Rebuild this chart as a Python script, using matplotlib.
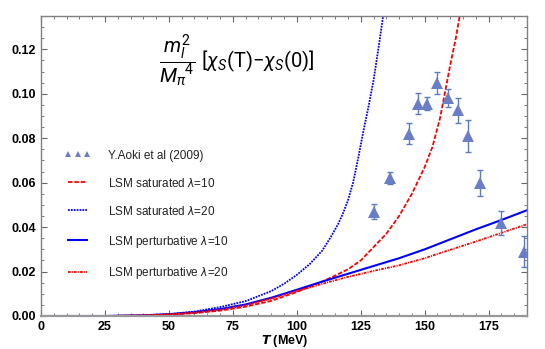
import numpy as np
import matplotlib
matplotlib.use('Agg')
import matplotlib.pyplot as plt
from matplotlib.lines import Line2D
from matplotlib.ticker import MultipleLocator

plt.rcParams['font.family'] = ['Liberation Sans', 'DejaVu Sans']
plt.rcParams['mathtext.fontset'] = 'custom'
plt.rcParams['mathtext.rm'] = 'Roboto'
plt.rcParams['mathtext.it'] = 'Roboto:italic'
plt.rcParams['mathtext.bf'] = 'Roboto:bold'

# Lattice data (Y. Aoki et al 2009)
T_data = [130, 136.5, 143.8, 147.3, 151, 155, 159, 163, 167, 171.5, 180, 189]
chi_data = [0.047, 0.062, 0.082, 0.0955, 0.0955, 0.105, 0.098, 0.0925, 0.081, 0.060, 0.042, 0.029]
chi_err = [0.0034, 0.0028, 0.0047, 0.0047, 0.003, 0.005, 0.004, 0.0056, 0.007, 0.0058, 0.0054, 0.007]

# LSM saturated lambda=10
T_sat10 = [0, 25, 40, 50, 60, 70, 80, 90, 100, 105, 110, 115, 120, 125, 130, 135, 140, 145, 150, 153, 156, 158, 160, 162, 164]
chi_sat10 = [0, 0, 0.0002, 0.0006, 0.0013, 0.0024, 0.0042, 0.0068, 0.0108, 0.0132, 0.0155, 0.0182, 0.021, 0.025, 0.031,
             0.037, 0.045, 0.055, 0.067, 0.076, 0.089, 0.101, 0.113, 0.124, 0.137]

# LSM saturated lambda=20
T_sat20 = [0, 25, 40, 50, 60, 70, 80, 90, 95, 100, 105, 110, 113, 116, 118, 120, 122, 124, 126, 128, 130, 132, 134]
chi_sat20 = [0, 0, 0.0003, 0.0008, 0.002, 0.004, 0.0067, 0.0112, 0.0145, 0.0185, 0.0233, 0.0295, 0.035, 0.041, 0.046,
             0.052, 0.060, 0.071, 0.083, 0.094, 0.106, 0.121, 0.137]

# LSM perturbative lambda=10
T_pert10 = [0, 25, 40, 50, 60, 70, 80, 90, 100, 110, 120, 130, 140, 150, 160, 170, 180, 190]
chi_pert10 = [0, 0, 0.0003, 0.0008, 0.0017, 0.0031, 0.0052, 0.0082, 0.0118, 0.0155, 0.019, 0.0225, 0.026, 0.030,
              0.0345, 0.039, 0.0432, 0.0476]

# LSM perturbative lambda=20
T_pert20 = [0, 25, 40, 50, 60, 70, 80, 90, 100, 110, 120, 130, 140, 150, 160, 170, 180, 190]
chi_pert20 = [0, 0, 0.0003, 0.0007, 0.0015, 0.0028, 0.0048, 0.0078, 0.0112, 0.0145, 0.0176, 0.0203, 0.0228, 0.026,
              0.0298, 0.0335, 0.0374, 0.0413]

data_color = '#6a7ec8'

fig = plt.figure(figsize=(5.45, 3.49), dpi=100)
ax = fig.add_axes([41 / 545, 1 - 316 / 349, 486 / 545, 300 / 349])

ax.errorbar(T_data, chi_data, yerr=chi_err, fmt='none', ecolor='#5a7cc0', elinewidth=1, capsize=2, capthick=1, zorder=3)
ax.plot(T_data, chi_data, '^', color=data_color, markersize=8, markeredgewidth=0, zorder=4)

ax.plot(T_sat10, chi_sat10, color='red', lw=1.3, dashes=(2.5, 1))
ax.plot(T_sat20, chi_sat20, color='blue', lw=1.3, dashes=(1, 0.6))
ax.plot(T_pert10, chi_pert10, color='blue', lw=1.5)
ax.plot(T_pert20, chi_pert20, color='red', lw=1.3, dashes=(1.5, 0.6, 0.6, 0.6))

ax.set_xlim(0, 190)
ax.set_ylim(0, 0.135)
ax.xaxis.set_major_locator(MultipleLocator(25))
ax.xaxis.set_minor_locator(MultipleLocator(5))
ax.yaxis.set_major_locator(MultipleLocator(0.02))
ax.yaxis.set_minor_locator(MultipleLocator(0.005))
ax.yaxis.set_major_formatter(plt.FormatStrFormatter('%.2f'))
ax.tick_params(which='both', direction='in', top=True, right=True, color='#666666')
ax.tick_params(which='major', length=4, width=0.8, labelsize=9)
ax.tick_params(which='minor', length=2, width=0.6)
for lab in ax.get_xticklabels() + ax.get_yticklabels():
    lab.set_fontweight('bold')
for sp in ax.spines.values():
    sp.set_color('#808080')
    sp.set_linewidth(1)
ax.spines['bottom'].set_linewidth(1.6)
ax.spines['bottom'].set_color('#999999')

fig.text(285 / 545, 1 - 341 / 349, r'$\mathbfit{T}$ (MeV)', fontsize=9, fontweight='bold', ha='center', va='center')

ax.text(0.243, 0.85, r'$\dfrac{m_l^2}{M_\pi{}^4}$ $[\chi_S(\mathrm{T}){-}\chi_S(0)]$',
        transform=ax.transAxes, fontsize=14.5, va='center', ha='left')

handles = [
    Line2D([], [], marker='^', color=data_color, linestyle='none', markersize=5, markeredgewidth=0),
    Line2D([], [], color='red', lw=1.3, dashes=(2.5, 1)),
    Line2D([], [], color='blue', lw=1.3, dashes=(1, 0.6)),
    Line2D([], [], color='blue', lw=1.5),
    Line2D([], [], color='red', lw=1.3, dashes=(1.5, 0.6, 0.6, 0.6)),
]
labels = ['Y.Aoki et al (2009)', r'LSM saturated $\lambda$=10', r'LSM saturated $\lambda$=20',
          r'LSM perturbative $\lambda$=10', r'LSM perturbative $\lambda$=20']
leg = ax.legend(handles, labels, loc='center left', bbox_to_anchor=(0.049, 0.335), frameon=False,
                fontsize=8.5, numpoints=3, handlelength=2.2, handletextpad=1.5, labelspacing=1.35,
                borderpad=0, borderaxespad=0)
for t in leg.get_texts():
    t.set_color('#222222')

fig.savefig('out.png', dpi=100)
